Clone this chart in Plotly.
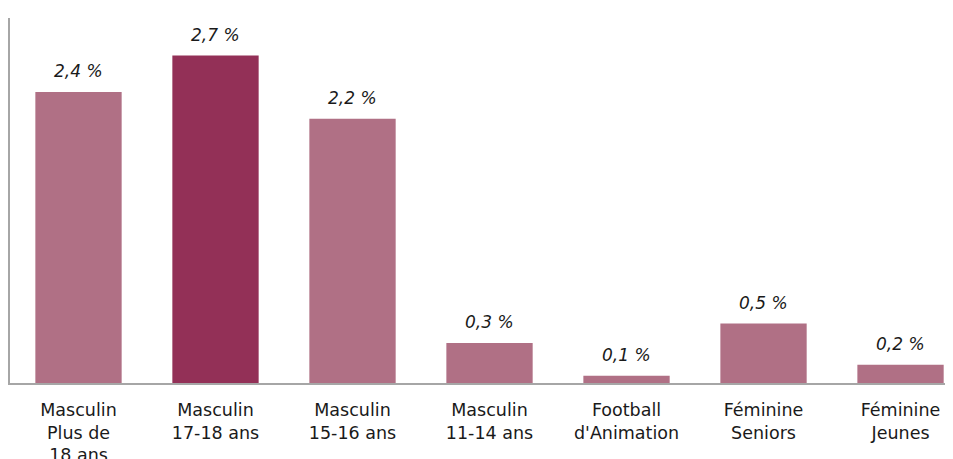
import plotly.graph_objects as go

categories = ["Masculin<br>Plus de<br>18 ans", "Masculin<br>17-18 ans", "Masculin<br>15-16 ans",
              "Masculin<br>11-14 ans", "Football<br>d'Animation", "Féminine<br>Seniors", "Féminine<br>Jeunes"]
values = [2.4, 2.7, 2.18, 0.33, 0.06, 0.49, 0.15]
value_labels = ["2,4 %", "2,7 %", "2,2 %", "0,3 %", "0,1 %", "0,5 %", "0,2 %"]
highlight = [False, True, False, False, False, False, False]

light = "#B07085"
dark = "#933057"
colors = [dark if h else light for h in highlight]

fig = go.Figure()
fig.add_trace(go.Bar(x=categories, y=values, marker=dict(color=colors, line=dict(width=0)),
                     width=0.63, hoverinfo="skip"))

for c, v, t in zip(categories, values, value_labels):
    fig.add_annotation(x=c, y=v, text="<i>" + t + "</i>", showarrow=False,
                       yanchor="bottom", yshift=9,
                       font=dict(family="DejaVu Sans", size=17, color="#1a1a1a"))

fig.update_layout(
    width=945, height=451,
    margin=dict(l=2, r=0, t=10, b=76),
    paper_bgcolor="white", plot_bgcolor="white",
    showlegend=False,
    xaxis=dict(range=[-0.5, 6.383], showgrid=False, showline=True, linecolor="#A6A6A6",
               linewidth=1.5, ticks="", ticklabelstandoff=10, automargin=False,
               tickfont=dict(family="DejaVu Sans", size=17.5, color="#1a1a1a")),
    yaxis=dict(range=[0, 3.01], showgrid=False, showline=True, linecolor="#A6A6A6",
               linewidth=1.5, showticklabels=False, ticks="", zeroline=False, automargin=False),
)

fig.write_html("out.html")
